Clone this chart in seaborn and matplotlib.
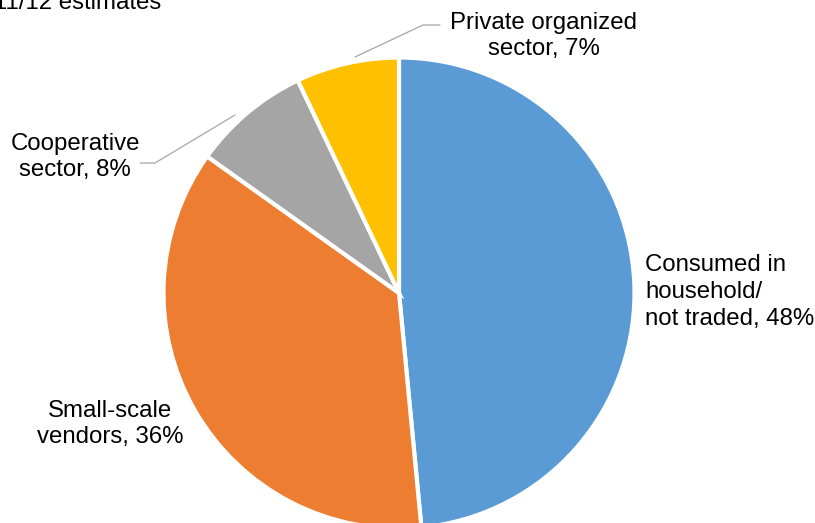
import matplotlib
matplotlib.use("Agg")
import matplotlib.pyplot as plt
import seaborn as sns

# Shares of milk by channel
categories = ["Consumed in\nhousehold/\nnot traded", "Small-scale\nvendors", "Cooperative\nsector", "Private organized\nsector"]
shares = [48, 36, 8, 7]
colors = ["#5B9BD5", "#ED7D31", "#A5A5A5", "#FFC000"]

sns.set_theme(style="white")
plt.rcParams["font.family"] = ["Liberation Sans", "DejaVu Sans"]

W, H = 815, 523
fig = plt.figure(figsize=(W / 100, H / 100), dpi=100)
ax = fig.add_axes([0, 0, 1, 1])

cx, cy, r = 399, H - 293, 235.5
ax.pie(shares, colors=colors, startangle=90, counterclock=False,
       center=(cx, cy), radius=r,
       wedgeprops=dict(edgecolor="white", linewidth=3))
ax.set_xlim(0, W)
ax.set_ylim(0, H)
ax.set_aspect("equal")
ax.axis("off")

fs = 17.3
kw = dict(fontsize=fs, linespacing=1.27, color="black")
labels = [f"{c}, {s}%" for c, s in zip(categories, shares)]
ax.text(645, H - 292, labels[0], ha="left", va="center", **kw)
ax.text(110, H - 424, labels[1], ha="center", va="center", **kw)
ax.text(75, H - 157, labels[2], ha="center", va="center", **kw)
ax.text(544, H - 36, labels[3], ha="center", va="center", **kw)

# leader lines for the two small slices
ax.plot([140, 155, 235], [H - 163, H - 163, H - 115], color="#A6A6A6", lw=0.9)
ax.plot([355, 423, 440], [H - 57, H - 25, H - 25], color="#A6A6A6", lw=0.9)

ax.text(161, H - 9, "2011/12 estimates", ha="right", va="baseline", **kw)

fig.savefig("out.png", dpi=100)
